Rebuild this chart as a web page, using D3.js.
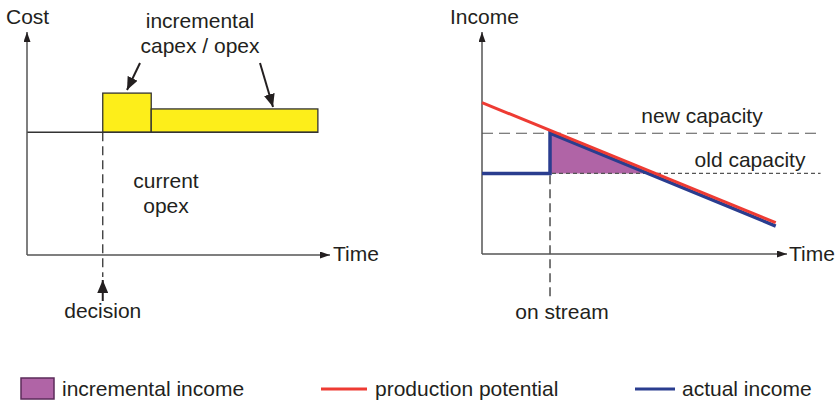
<!DOCTYPE html>
<html>
<head>
<meta charset="utf-8">
<script src="https://cdn.jsdelivr.net/npm/d3@7"></script>
<style>
  html, body { margin: 0; padding: 0; background: #fff; }
  svg text { font-family: "Liberation Sans", Arial, Helvetica, sans-serif; font-size: 21px; fill: #231f20; }
</style>
</head>
<body>
<svg id="chart" width="838" height="403"></svg>
<script>
// ---------- data (schematic units 0..100 on each axis) ----------
// Left panel: cost
const costTime = [0, 96];
const currentOpex = 55;
const incrementStart = [25, 41];
const incrementEnd = [41, 96];
const incrementTop = [72.6, 65.5];
const decisionTime = 25;

// Right panel: income
const potentialTime = [0, 96.3];
const potentialValue = [68.2, 14.1];
const actualTime = [0, 22.3, 22.3, 96.3];
const actualValue = [36.3, 36.3, 54.4, 12.6];
const capacityLevels = [54.4, 36.3];
const capacityLabels = ["new capacity", "old capacity"];
const capacityEnd = [110, 111];
const onStreamTime = 22.3;
const incomeTime = [22.3, 22.3, 53.4];
const incomeValue = [54.4, 36.3, 36.3];

// Legend
const legendLabels = ["incremental income", "production potential", "actual income"];

// ---------- colours ----------
const C = { text: "#231f20", axis: "#555", yellow: "#fdee1a", red: "#ee3b33", blue: "#2a3d8f", purple: "#b064a6", purpleEdge: "#5b2b5a" };

const svg = d3.select("#chart");
const defs = svg.append("defs");
function marker(id, len, wid) {
  defs.append("marker").attr("id", id).attr("markerUnits", "userSpaceOnUse")
    .attr("viewBox", `0 ${-wid/2} ${len} ${wid}`).attr("refX", len).attr("refY", 0)
    .attr("markerWidth", len).attr("markerHeight", wid).attr("orient", "auto")
    .append("path").attr("d", `M0,${-wid/2}L${len},0L0,${wid/2}Z`).attr("fill", C.text);
}
marker("axArrow", 10, 7);
marker("bigArrow", 13, 11);

// ---------- left panel ----------
const xL = d3.scaleLinear().domain([0, 100]).range([27, 330]);
const yL = d3.scaleLinear().domain([0, 100]).range([255, 32]);
const gL = svg.append("g");

// incremental rectangles
gL.selectAll("rect.inc").data(incrementStart).join("rect")
  .attr("x", (d, i) => xL(d))
  .attr("y", (d, i) => yL(incrementTop[i]))
  .attr("width", (d, i) => xL(incrementEnd[i]) - xL(d))
  .attr("height", (d, i) => yL(currentOpex) - yL(incrementTop[i]))
  .attr("fill", C.yellow).attr("stroke", "#333").attr("stroke-width", 1.3);

// current opex line
gL.append("line").attr("x1", xL(costTime[0])).attr("x2", xL(costTime[1]))
  .attr("y1", yL(currentOpex)).attr("y2", yL(currentOpex))
  .attr("stroke", "#333").attr("stroke-width", 1.5);

// decision dashed line
gL.append("line").attr("x1", xL(decisionTime)).attr("x2", xL(decisionTime))
  .attr("y1", yL(currentOpex)).attr("y2", 277)
  .attr("stroke", "#333").attr("stroke-width", 1.3).attr("stroke-dasharray", "9,5");
gL.append("line").attr("x1", xL(decisionTime)).attr("x2", xL(decisionTime))
  .attr("y1", 301).attr("y2", 280)
  .attr("stroke", C.text).attr("stroke-width", 2).attr("marker-end", "url(#bigArrow)");

// axes
gL.append("line").attr("x1", xL(0)).attr("x2", xL(0)).attr("y1", yL(0)).attr("y2", yL(100))
  .attr("stroke", C.axis).attr("stroke-width", 1.5).attr("marker-end", "url(#axArrow)");
gL.append("line").attr("x1", xL(0)).attr("x2", xL(100)).attr("y1", yL(0)).attr("y2", yL(0))
  .attr("stroke", C.axis).attr("stroke-width", 1.5).attr("marker-end", "url(#axArrow)");

// annotation arrows
gL.append("line").attr("x1", 140).attr("y1", 63).attr("x2", 127).attr("y2", 90)
  .attr("stroke", C.text).attr("stroke-width", 2).attr("marker-end", "url(#bigArrow)");
gL.append("line").attr("x1", 260).attr("y1", 63).attr("x2", 273).attr("y2", 107)
  .attr("stroke", C.text).attr("stroke-width", 2).attr("marker-end", "url(#bigArrow)");

// texts
gL.append("text").attr("x", 6).attr("y", 24).text("Cost");
gL.append("text").attr("x", 333).attr("y", 261).text("Time");
gL.append("text").attr("x", 200).attr("y", 28).attr("text-anchor", "middle").text("incremental");
gL.append("text").attr("x", 200).attr("y", 53).attr("text-anchor", "middle").text("capex / opex");
gL.append("text").attr("x", 166).attr("y", 188).attr("text-anchor", "middle").text("current");
gL.append("text").attr("x", 166).attr("y", 213).attr("text-anchor", "middle").text("opex");
gL.append("text").attr("x", xL(decisionTime)).attr("y", 318).attr("text-anchor", "middle").text("decision");

// ---------- right panel ----------
const xR = d3.scaleLinear().domain([0, 100]).range([482, 787]);
const yR = d3.scaleLinear().domain([0, 100]).range([254, 32]);
const gR = svg.append("g");

// incremental income area
gR.append("path")
  .attr("d", d3.line()(incomeTime.map((t, i) => [xR(t), yR(incomeValue[i])])) + "Z")
  .attr("fill", C.purple);

// capacity lines
gR.selectAll("line.cap").data(capacityLevels).join("line")
  .attr("x1", xR(0)).attr("x2", (d, i) => xR(capacityEnd[i]))
  .attr("y1", d => yR(d)).attr("y2", d => yR(d))
  .attr("stroke", C.axis).attr("stroke-width", 1.2)
  .attr("stroke-dasharray", (d, i) => i === 0 ? "11,6" : "4,3");
gR.selectAll("text.cap").data(capacityLabels).join("text")
  .attr("x", (d, i) => i === 0 ? 702 : 750)
  .attr("y", (d, i) => yR(capacityLevels[i]) - (i === 0 ? 10 : 6))
  .attr("text-anchor", "middle").text(d => d);

// on stream dashed line
gR.append("line").attr("x1", xR(onStreamTime)).attr("x2", xR(onStreamTime))
  .attr("y1", yR(capacityLevels[0])).attr("y2", 297)
  .attr("stroke", "#333").attr("stroke-width", 1.3).attr("stroke-dasharray", "9,5");

// axes
gR.append("line").attr("x1", xR(0)).attr("x2", xR(0)).attr("y1", yR(0)).attr("y2", yR(100))
  .attr("stroke", C.axis).attr("stroke-width", 1.5).attr("marker-end", "url(#axArrow)");
gR.append("line").attr("x1", xR(0)).attr("x2", xR(100)).attr("y1", yR(0)).attr("y2", yR(0))
  .attr("stroke", C.axis).attr("stroke-width", 1.5).attr("marker-end", "url(#axArrow)");

// actual income (blue) and potential (red)
gR.append("path")
  .attr("d", d3.line()(actualTime.map((t, i) => [xR(t), yR(actualValue[i])])))
  .attr("fill", "none").attr("stroke", C.blue).attr("stroke-width", 3.5);
gR.append("path")
  .attr("d", d3.line()(potentialTime.map((t, i) => [xR(t), yR(potentialValue[i])])))
  .attr("fill", "none").attr("stroke", C.red).attr("stroke-width", 3);

gR.append("text").attr("x", 450).attr("y", 24).text("Income");
gR.append("text").attr("x", 789).attr("y", 261).text("Time");
gR.append("text").attr("x", 562).attr("y", 319).attr("text-anchor", "middle").text("on stream");

// ---------- legend ----------
const gLeg = svg.append("g");
gLeg.append("rect").attr("x", 21).attr("y", 378).attr("width", 33).attr("height", 21)
  .attr("fill", C.purple).attr("stroke", C.purpleEdge).attr("stroke-width", 1.5);
gLeg.append("line").attr("x1", 321).attr("x2", 367).attr("y1", 389).attr("y2", 389)
  .attr("stroke", C.red).attr("stroke-width", 3);
gLeg.append("line").attr("x1", 635).attr("x2", 675).attr("y1", 389).attr("y2", 389)
  .attr("stroke", C.blue).attr("stroke-width", 3);
const legX = [62, 375, 682];
gLeg.selectAll("text").data(legendLabels).join("text")
  .attr("x", (d, i) => legX[i]).attr("y", 396).text(d => d);
</script>
</body>
</html>
